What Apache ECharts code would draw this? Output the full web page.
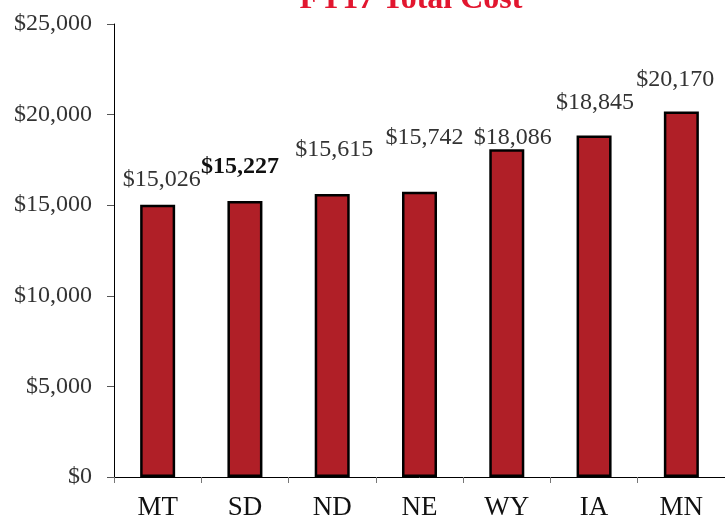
<!DOCTYPE html>
<html>
<head>
<meta charset="utf-8">
<script src="https://cdn.jsdelivr.net/npm/echarts@6/dist/echarts.min.js"></script>
<style>
  html, body { margin: 0; padding: 0; background: #fff; }
  #chart { width: 725px; height: 521px; }
</style>
</head>
<body>
<div id="chart"></div>
<script>
const states = ['MT', 'SD', 'ND', 'NE', 'WY', 'IA', 'MN'];
const totalCost = [15026, 15227, 15615, 15742, 18086, 18845, 20170];
const highlightState = 'SD';

// label nudges so the labels sit where the original places them
const labelNudge = [[4, -3], [-5, -12], [2, -22], [5, -32], [6, 10], [1, -11], [-6, -10]];

const chart = echarts.init(document.getElementById('chart'));
const serif = 'Liberation Serif';

const barData = totalCost.map((v, i) => ({
  value: v,
  label: {
    offset: labelNudge[i],
    fontWeight: states[i] === highlightState ? 'bold' : 'normal',
    color: states[i] === highlightState ? '#111' : '#333',
  },
}));

chart.setOption({
  animation: false,
  title: {
    text: 'FY17 Total Cost',
    left: 406,
    top: -21,
    textAlign: 'center',
    textStyle: { color: '#E2162F', fontFamily: serif, fontWeight: 'bold', fontSize: 32 },
  },
  grid: { left: 114, right: -5, top: 24, bottom: 44, containLabel: false },
  xAxis: {
    type: 'category',
    data: states,
    axisLine: { lineStyle: { color: '#000', width: 1 } },
    axisTick: { show: true, length: 6, lineStyle: { color: '#777' } },
    axisLabel: { color: '#111', fontFamily: serif, fontSize: 27, margin: 17 },
  },
  yAxis: {
    type: 'value',
    min: 0,
    max: 25000,
    interval: 5000,
    axisLine: { show: true, lineStyle: { color: '#000', width: 1 } },
    axisTick: { show: true, length: 7, lineStyle: { color: '#555' } },
    splitLine: { show: false },
    axisLabel: {
      color: '#333',
      fontFamily: serif,
      fontSize: 24,
      margin: 22,
      formatter: v => '$' + v.toLocaleString('en-US'),
    },
  },
  series: [
    {
      type: 'bar',
      data: barData,
      barWidth: 35,
      itemStyle: { color: '#B01F27', borderColor: '#000', borderWidth: 2.5 },
      label: {
        show: true,
        position: 'top',
        distance: 10,
        fontFamily: serif,
        fontSize: 24,
        formatter: p => '$' + p.value.toLocaleString('en-US'),
      },
    },
  ],
});
</script>
</body>
</html>
